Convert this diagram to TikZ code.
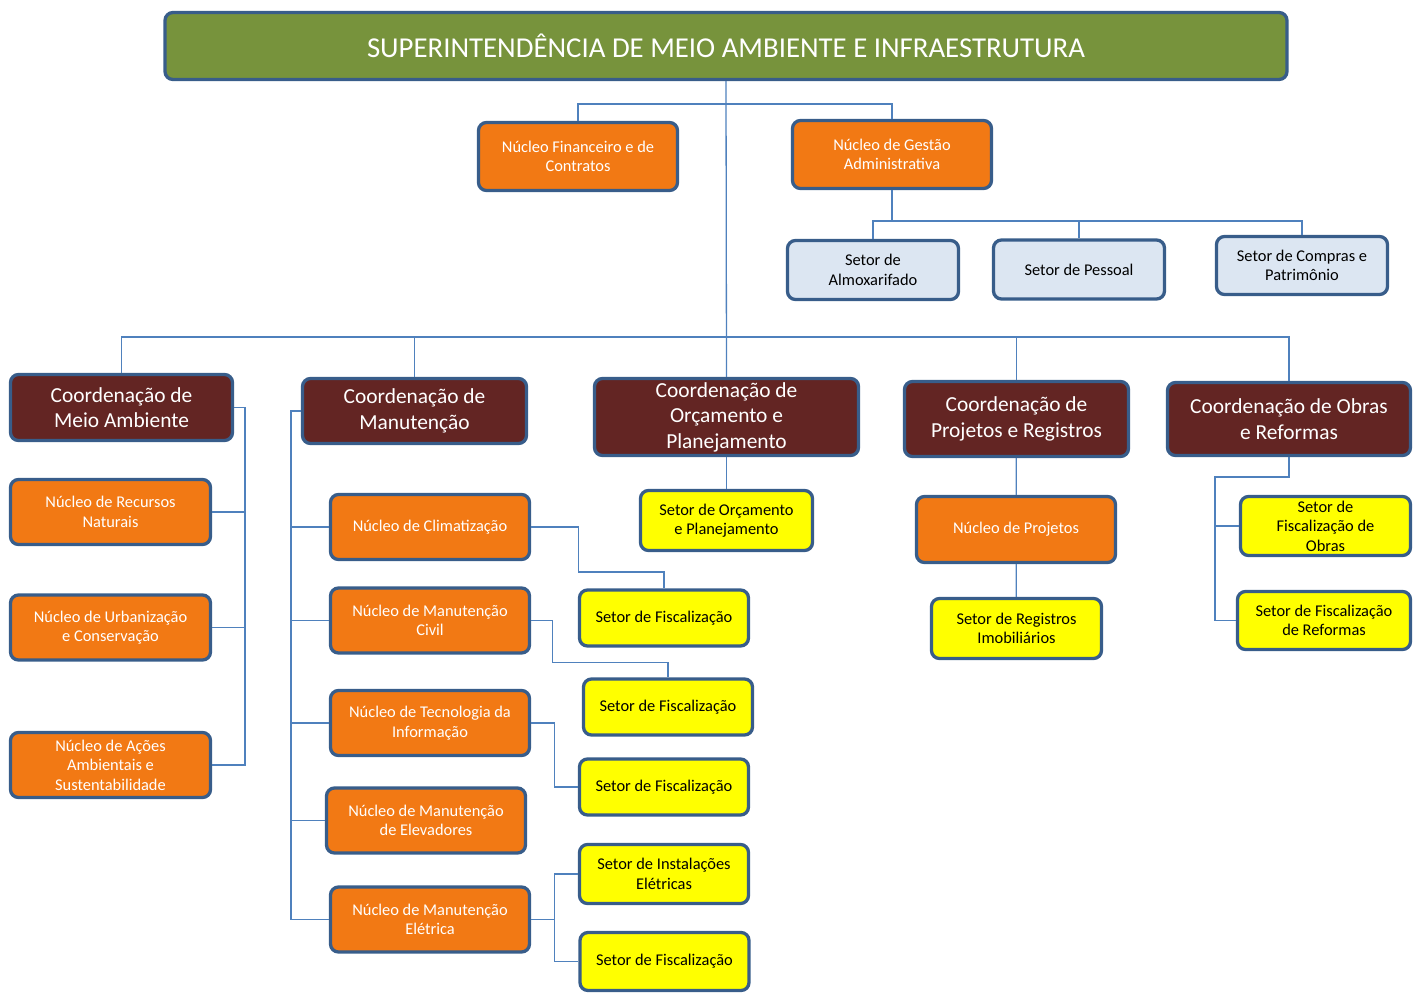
\documentclass[tikz,border=0pt]{standalone}
\usepackage{fontspec}
\setmainfont{Carlito}
\usepackage{xcolor}
\usetikzlibrary{positioning,calc}
\definecolor{bordblue}{RGB}{56,93,138}
\definecolor{linkblue}{RGB}{79,129,189}
\definecolor{supgreen}{RGB}{119,147,60}
\definecolor{coordred}{RGB}{99,37,35}
\definecolor{nucorange}{RGB}{242,121,20}
\definecolor{setlight}{RGB}{220,230,242}
\definecolor{setyellow}{RGB}{255,255,0}
\tikzset{
  box/.style={rectangle, rounded corners=8pt,
    draw=bordblue, line width=3.3pt, align=center, inner sep=2pt},
  supbox/.style={box, fill=supgreen, text=white,
    minimum width=1122pt, minimum height=67pt,
    font=\fontsize{28.8}{34}\selectfont},
  coordbox/.style={box, fill=coordred, text=white,
    minimum width=224pt, minimum height=66pt,
    font=\fontsize{21.4}{25.5}\selectfont},
  nucbox/.style={box, fill=nucorange, text=white,
    minimum width=199pt, minimum height=65pt,
    font=\fontsize{16.4}{19.5}\selectfont},
  setbox/.style={box, fill=setlight, text=black,
    minimum width=171pt, minimum height=59pt,
    font=\fontsize{16.4}{19.5}\selectfont},
  ybox/.style={box, fill=setyellow, text=black,
    minimum width=169pt, minimum height=56pt,
    font=\fontsize{16.4}{19.5}\selectfont},
  link/.style={line width=1.3pt, color=linkblue}
}
\begin{document}
\begin{tikzpicture}[x=1pt, y=-1pt]
\useasboundingbox (0,0) rectangle (1417,994);

%% ── TOP ────────────────────────────────────────────────────────────
\node[supbox] (sup) at (726,46)
  {SUPERINTENDÊNCIA DE MEIO AMBIENTE E INFRAESTRUTURA};
\node[nucbox, minimum height=68pt] (nfin) at (578,156.5) {Núcleo Financeiro e de\\Contratos};
\node[nucbox, minimum height=68pt] (nges) at (892,154.5) {Núcleo de Gestão\\Administrativa};
\node[setbox] (salm)  at (873,270)    {Setor de\\Almoxarifado};
\node[setbox] (spes)  at (1079,269.5) {Setor de Pessoal};
\node[setbox, minimum height=58pt] (scomp) at (1302,265.5) {Setor de Compras e\\Patrimônio};

%% ── COORDENAÇÕES ───────────────────────────────────────────────────
\node[coordbox, minimum width=222pt] (cma)   at (121.5,407.5) {Coordenação de\\Meio Ambiente};
\node[coordbox, minimum height=65pt] (cman)  at (414.5,411)   {Coordenação de\\Manutenção};
\node[coordbox, minimum width=264pt, minimum height=77pt]
  (cor) at (726.5,417) {Coordenação de\\Orçamento e\\Planejamento};
\node[coordbox, minimum height=75pt] (cproj) at (1016.5,419)  {Coordenação de\\Projetos e Registros};
\node[coordbox, minimum width=243pt, minimum height=73pt]
  (cobr) at (1289,419) {Coordenação de Obras\\e Reformas};

%% ── MEIO AMBIENTE ──────────────────────────────────────────────────
\node[nucbox, minimum width=200pt] (nrec)   at (110.5,512)   {Núcleo de Recursos\\Naturais};
\node[nucbox, minimum width=200pt] (nurb)   at (110.5,627.5) {Núcleo de Urbanização\\e Conservação};
\node[nucbox, minimum width=200pt] (nacoes) at (110.5,765)   {Núcleo de Ações\\Ambientais e\\Sustentabilidade};

%% ── MANUTENÇÃO ─────────────────────────────────────────────────────
\node[nucbox] (nclim) at (430,527)   {Núcleo de Climatização};
\node[nucbox] (nciv)  at (430,620.5) {Núcleo de Manutenção\\Civil};
\node[nucbox] (ntec)  at (430,723)   {Núcleo de Tecnologia da\\Informação};
\node[nucbox] (nelev) at (426,820.5) {Núcleo de Manutenção\\de Elevadores};
\node[nucbox] (nele)  at (430,919.5) {Núcleo de Manutenção\\Elétrica};

\node[ybox] (sf1)   at (664,618)     {Setor de Fiscalização};
\node[ybox] (sf2)   at (668,707)     {Setor de Fiscalização};
\node[ybox] (sf3)   at (664,787)     {Setor de Fiscalização};
\node[ybox, minimum height=59pt] (sinst) at (664,874) {Setor de Instalações\\Elétricas};
\node[ybox, minimum height=58pt] (sf4)   at (664.5,961.5) {Setor de Fiscalização};

%% ── ORÇAMENTO / PROJETOS / OBRAS ───────────────────────────────────
\node[ybox, minimum width=172pt, minimum height=60pt] (sorc) at (726.5,520.5) {Setor de Orçamento\\e Planejamento};
\node[nucbox, minimum height=66pt] (nproj) at (1016,529.5) {Núcleo de Projetos};
\node[ybox, minimum width=170pt, minimum height=60pt] (sreg) at (1016.5,628.5) {Setor de Registros\\Imobiliários};
\node[ybox, minimum width=170pt, minimum height=59pt] (sfobr) at (1325.5,526) {Setor de\\Fiscalização de\\Obras};
\node[ybox, minimum width=173pt, minimum height=58pt] (sfref) at (1324,620.5) {Setor de Fiscalização\\de Reformas};

%% ── LINKS: top ─────────────────────────────────────────────────────
\coordinate (b1)  at (726,104);
\coordinate (b2)  at (892,221);
\coordinate (bus) at (726,337);
\draw[link] (sup.south) -- (cor.north);
\draw[link] (nfin.north) |- (b1) -| (nges.north);
\draw[link] (nges.south) -- (b2);
\draw[link] (salm.north) |- (b2) -| (scomp.north);
\draw[link] (spes.north) -- (spes.north |- b2);

%% bus to the coordenações
\draw[link] (cma.north) |- (bus) -| (cobr.north);
\draw[link] (cman.north) -- (cman.north |- bus);
\draw[link] (cproj.north) -- (cproj.north |- bus);

%% ── LINKS: Meio Ambiente ───────────────────────────────────────────
\coordinate (max) at (245,0);
\draw[link] (cma.east) -| (nacoes.east -| max) -- (nacoes.east);
\draw[link] (nrec.east) -- (nrec.east -| max);
\draw[link] (nurb.east) -- (nurb.east -| max);

%% ── LINKS: Manutenção ──────────────────────────────────────────────
\coordinate (mnx) at (291,0);
\draw[link] (cman.west) -| (nele.west -| mnx) -- (nele.west);
\draw[link] (nclim.west) -- (nclim.west -| mnx);
\draw[link] (nciv.west)  -- (nciv.west -| mnx);
\draw[link] (ntec.west)  -- (ntec.west -| mnx);
\draw[link] (nelev.west) -- (nelev.west -| mnx);

\draw[link] (nclim.east) -| ($(nclim.east)+(47,45)$) -| (sf1.north);
\draw[link] (nciv.east) -| ($(nciv.east)+(21,42)$) -| (sf2.north);
\draw[link] (ntec.east) -- ++(23,0) |- (sf3.west);
\draw[link] (nele.east) -- ++(23,0);
\draw[link] (sinst.west) -| ($(nele.east)+(23,0)$) |- (sf4.west);

%% ── LINKS: Orçamento / Projetos / Obras ────────────────────────────
\draw[link] (cor) -- (sorc);
\draw[link] (cproj) -- (nproj);
\draw[link] (nproj) -- (sreg);
\coordinate (obx) at (1215,477);
\draw[link] (cobr.south) |- (obx) |- (sfref.west);
\draw[link] (sfobr.west) -- (sfobr.west -| obx);

\end{tikzpicture}
\end{document}
